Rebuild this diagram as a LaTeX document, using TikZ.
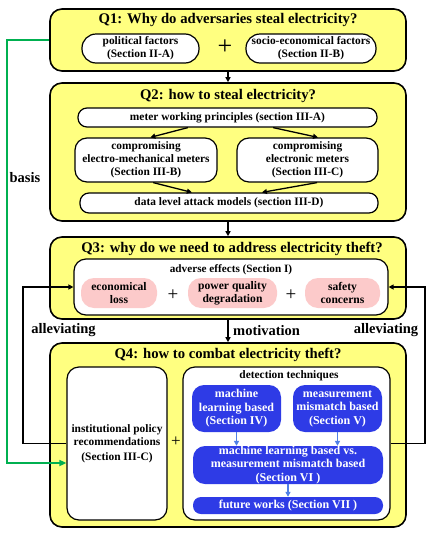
\documentclass[tikz,border=0pt]{standalone}
\usepackage{fontspec}
\setmainfont{Liberation Serif}
\usetikzlibrary{arrows.meta,calc}
\definecolor{qyellow}{HTML}{FFFF80}
\definecolor{qpink}{HTML}{FCCACA}
\definecolor{qblue}{HTML}{2E3BE6}
\definecolor{qlblue}{HTML}{4F7FE6}
\definecolor{qgreen}{HTML}{00B050}
\begin{document}
\begin{tikzpicture}[x=1pt,y=-1pt,
  qbox/.style={draw=black, line width=1.6pt, fill=qyellow, rounded corners=12pt, inner sep=0pt},
  qtitle/.style={font=\bfseries\fontsize{14.7}{16}\selectfont, inner sep=0pt},
  wbox/.style={draw=black, line width=1.2pt, fill=white, rounded corners=11pt, align=center, inner sep=0pt, font=\bfseries\fontsize{11.4}{13}\selectfont},
  pbox/.style={fill=qpink, rounded corners=13pt, align=center, inner sep=0pt, font=\bfseries\fontsize{11.6}{13}\selectfont},
  bbox/.style={fill=qblue, rounded corners=12pt, align=center, inner sep=0pt, text=white, font=\bfseries\fontsize{12}{13.5}\selectfont},
  lbl/.style={font=\bfseries\fontsize{14.5}{16}\selectfont, inner sep=0pt},
  plus/.style={inner sep=0pt},
  arr/.style={line width=1.3pt, -{Triangle[length=5pt,width=5pt]}},
  barr/.style={line width=1.3pt, draw=qlblue, -{Triangle[length=5pt,width=5pt]}},
  garr/.style={line width=1.6pt, draw=qgreen, -{Triangle[length=7pt,width=6pt]}}
]
\useasboundingbox (0,0) rectangle (433,536);

% Q1
\node[qbox, minimum width=356pt, minimum height=62pt] (Q1) at (228,40) {};
\node[qtitle] (T1) at (228,20) {Q1: Why do adversaries steal electricity?};
\node[wbox, rounded corners=14pt, minimum width=117pt, minimum height=29pt] (pol) at (140.5,48.5) {political factors\\(Section II-A)};
\node[wbox, rounded corners=14pt, minimum width=130pt, minimum height=29pt] (soc) at (311,48.5) {socio-economical factors\\(Section II-B)};
\node[plus, font=\fontsize{26}{26}\selectfont] (p1) at (225,47) {+};

% Q2
\node[qbox, minimum width=356pt, minimum height=138pt] (Q2) at (228,152) {};
\node[qtitle] (T2) at (228,96) {Q2: how to steal electricity?};
\node[wbox, rounded corners=9pt, minimum width=299pt, minimum height=19pt] (meter) at (227.5,117.5) {meter working principles (section III-A)};
\node[wbox, rounded corners=12pt, minimum width=142pt, minimum height=44pt] (em) at (146,160) {compromising\\electro-mechanical meters\\(Section III-B)};
\node[wbox, rounded corners=12pt, minimum width=141pt, minimum height=44pt] (el) at (307.5,160) {compromising\\electronic meters\\(Section III-C)};
\node[wbox, rounded corners=9pt, minimum width=298pt, minimum height=20pt] (data) at (229,203) {data level attack models (section III-D)};

\draw[arr] ($(meter.south west)!0.368!(meter.south east)$) -- ($(em.north west)!0.53!(em.north east)$);
\draw[arr] ($(meter.south west)!0.652!(meter.south east)$) -- ($(el.north west)!0.574!(el.north east)$);
\draw[arr] ($(em.south west)!0.55!(em.south east)$) -- ($(data.north west)!0.376!(data.north east)$);
\draw[arr] ($(el.south west)!0.567!(el.south east)$) -- ($(data.north west)!0.61!(data.north east)$);

% Q3
\node[qbox, minimum width=356pt, minimum height=82pt] (Q3) at (228,278) {};
\node[qtitle] (T3) at (232,249) {Q3: why do we need to address electricity theft?};
\node[wbox, rounded corners=12pt, minimum width=314pt, minimum height=56pt] (adv) at (231,287) {};
\node[font=\bfseries\fontsize{11.2}{13}\selectfont, inner sep=0pt] (advt) at (231,270) {adverse effects (Section I)};
\node[pbox, minimum width=76pt, minimum height=30pt] (eco) at (119,293) {economical\\loss};
\node[pbox, minimum width=89pt, minimum height=30pt] (pq) at (232.5,293) {power quality\\degradation};
\node[pbox, minimum width=75pt, minimum height=30pt] (saf) at (342.5,293) {safety\\concerns};
\node[plus, font=\fontsize{19}{19}\selectfont] (p2) at (173,295) {+};
\node[plus, font=\fontsize{19}{19}\selectfont] (p3) at (291,295) {+};

% Q4
\node[qbox, minimum width=356pt, minimum height=184pt] (Q4) at (228,435) {};
\node[qtitle] (T4) at (228,355) {Q4: how to combat electricity theft?};
\node[wbox, rounded corners=12pt, minimum width=100pt, minimum height=153pt] (inst) at (117,443.5) {institutional policy\\recommendations\\[2pt](Section III-C)};
\node[wbox, rounded corners=12pt, minimum width=207pt, minimum height=153pt] (det) at (286.5,443.5) {};
\node[font=\bfseries\fontsize{11.4}{13}\selectfont, inner sep=0pt] (dett) at (289,376) {detection techniques};
\node[plus, font=\fontsize{17}{17}\selectfont] (p4) at (176,442) {+};
\node[bbox, minimum width=89pt, minimum height=47pt] (ml) at (236.5,408.5) {machine\\learning based\\(Section IV)};
\node[bbox, minimum width=89pt, minimum height=47pt] (mm) at (337.5,408.5) {measurement\\mismatch based\\(Section V)};
\node[bbox, minimum width=190pt, minimum height=38pt] (vs) at (288,465) {machine learning based vs.\\measurement mismatch based\\(Section VI )};
\node[bbox, rounded corners=8pt, minimum width=190pt, minimum height=17pt] (fw) at (288,505.5) {future works (Section VII )};

\draw[barr] (ml.south) -- (ml.south |- vs.north);
\draw[barr] (mm.south) -- (mm.south |- vs.north);
\draw[barr] (vs.south) -- (fw.north);

% main flow
\draw[arr] (Q1.south) -- (Q1.south |- Q2.north);
\draw[arr] (Q2.south) -- (Q2.south |- Q3.north);
\draw[arr] (Q3.south) -- (Q3.south |- Q4.north);
\node[lbl, anchor=west] (mot) at (233,331) {motivation};

% alleviating loops
\coordinate (lx) at (23,0);
\coordinate (rx) at (425,0);
\draw[arr] (inst.west) -| (lx |- adv.west) -- (adv.west);
\draw[arr] (det.east) -| (rx |- adv.east) -- (adv.east);
\node[lbl] (al1) at (63.5,330) {alleviating};
\node[lbl] (al2) at (386,330) {alleviating};

% basis
\coordinate (gx) at (7,0);
\coordinate (gin) at ($(inst.west)+(0,19.5)$);
\draw[garr] (Q1.west) -- (gx |- Q1.west) |- (gin);
\node[lbl] (bas) at (25,178) {basis};
\end{tikzpicture}
\end{document}
